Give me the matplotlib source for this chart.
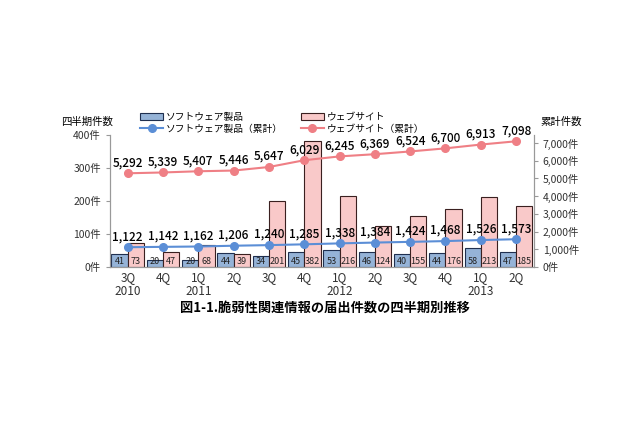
import matplotlib.pyplot as plt
import numpy as np
from matplotlib.ticker import FuncFormatter

plt.rcParams['font.family'] = ['Noto Sans CJK JP', 'DejaVu Sans']

quarters = ['3Q\n2010', '4Q', '1Q\n2011', '2Q', '3Q', '4Q', '1Q\n2012', '2Q', '3Q', '4Q', '1Q\n2013', '2Q']
soft = [41, 20, 20, 44, 34, 45, 53, 46, 40, 44, 58, 47]
web = [73, 47, 68, 39, 201, 382, 216, 124, 155, 176, 213, 185]
soft_cum = [1122, 1142, 1162, 1206, 1240, 1285, 1338, 1384, 1424, 1468, 1526, 1573]
web_cum = [5292, 5339, 5407, 5446, 5647, 6029, 6245, 6369, 6524, 6700, 6913, 7098]

fig = plt.figure(figsize=(6.4, 4.26), dpi=100)
ax = fig.add_axes([0.172, 0.373, 0.662, 0.31])
ax2 = ax.twinx()

x = np.arange(len(quarters))
w = 0.46
b1 = ax.bar(x - w / 2, soft, w, color='#95b3d7', edgecolor='#1f2f4f', linewidth=0.8)
b2 = ax.bar(x + w / 2, web, w, color='#f9c9c9', edgecolor='#3a2020', linewidth=0.8)
for i in range(len(x)):
    ax.text(x[i] - w / 2, 4, str(soft[i]), ha='center', va='bottom', fontsize=6.5, color='#222222')
    ax.text(x[i] + w / 2, 4, str(web[i]), ha='center', va='bottom', fontsize=6.5, color='#222222')

l1, = ax2.plot(x, soft_cum, color='#5b8ed6', marker='o', markersize=5.5, linewidth=1.5)
l2, = ax2.plot(x, web_cum, color='#ef7f85', marker='o', markersize=5.5, linewidth=1.5)
for i in range(len(x)):
    ax2.annotate(f'{soft_cum[i]:,}', (x[i], soft_cum[i]), xytext=(0, 3), textcoords='offset points',
                 ha='center', va='bottom', fontsize=8.5, fontweight='medium', color='black')
    ax2.annotate(f'{web_cum[i]:,}', (x[i], web_cum[i]), xytext=(0, 3), textcoords='offset points',
                 ha='center', va='bottom', fontsize=8.5, fontweight='medium', color='black')

ax.set_xlim(-0.5, 11.5)
ax.set_ylim(0, 400)
ax2.set_ylim(0, 7450)
ax.set_yticks([0, 100, 200, 300, 400])
ax.yaxis.set_major_formatter(FuncFormatter(lambda v, p: f'{int(v)}件'))
ax2.set_yticks(range(0, 7001, 1000))
ax2.yaxis.set_major_formatter(FuncFormatter(lambda v, p: f'{int(v):,}件'))
ax.set_xticks(x)
ax.set_xticklabels(quarters, fontsize=8.5, color='#333333', linespacing=1.1)
ax.tick_params(axis='y', labelsize=7.5, colors='#333333', length=3, color='#999999')
ax2.tick_params(axis='y', labelsize=7.5, colors='#333333', length=3, color='#999999')
ax.tick_params(axis='x', length=0, pad=3)

for a in (ax, ax2):
    a.spines['top'].set_visible(False)
    for s in ('left', 'right', 'bottom'):
        a.spines[s].set_color('#999999')

fig.legend([b1, l1, b2, l2], ['ソフトウェア製品', 'ソフトウェア製品（累計）', 'ウェブサイト', 'ウェブサイト（累計）'],
           ncol=2, loc='upper left', bbox_to_anchor=(0.211, 0.748), frameon=False, fontsize=7,
           handlelength=2.4, handletextpad=0.3, columnspacing=1.8, labelspacing=0.15, borderpad=0)

fig.text(0.095, 0.715, '四半期件数', fontsize=7.5, ha='left', va='center')
fig.text(0.845, 0.715, '累計件数', fontsize=7.5, ha='left', va='center')
fig.text(0.507, 0.277, '図1-1.脆弱性関連情報の届出件数の四半期別推移', fontsize=9.5, fontweight='bold', ha='center', va='center')

fig.savefig('out.png', dpi=100)
